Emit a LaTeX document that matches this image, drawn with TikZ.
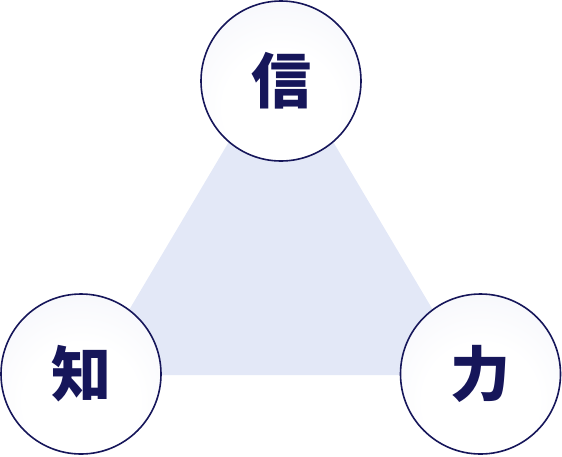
\documentclass[tikz,border=0pt]{standalone}
\usepackage{fontspec}
\newfontfamily\cjk{Noto Sans CJK JP}
\definecolor{navy}{HTML}{16165A}
\definecolor{tri}{HTML}{E3E8F7}
\definecolor{lav}{HTML}{E6E8F5}
\pgfdeclareradialshading{circshade}{\pgfpoint{0bp}{-12bp}}{color(0bp)=(white); color(18bp)=(white); color(62bp)=(lav)}
\tikzset{
  kanji/.style={circle, draw=navy, line width=1.6pt, minimum size=160pt, inner sep=0pt,
    shading=circshade, text=navy, font=\cjk\bfseries\fontsize{60}{60}\selectfont}
}
\begin{document}
\begin{tikzpicture}[x=1pt,y=-1pt]
\useasboundingbox (0,0) rectangle (562,456);
\fill[tri] (90.5,375) -- (281,54) -- (471.5,375) -- cycle;
\node[kanji] (shin) at (281,81) {信};
\node[kanji] (chi) at (81,374) {知};
\node[kanji] (ryoku) at (480.5,374) {力};
\end{tikzpicture}
\end{document}
